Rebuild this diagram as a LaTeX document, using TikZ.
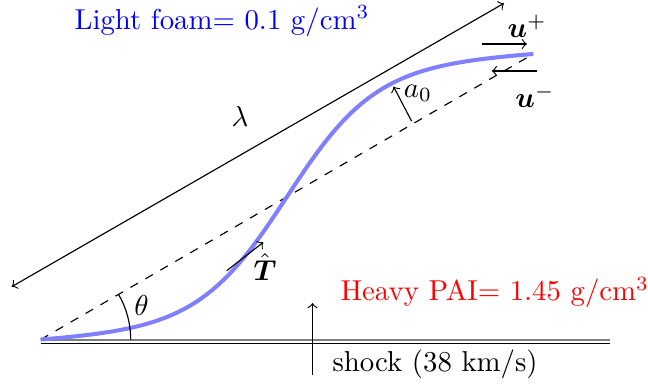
\documentclass[tikz,border=0pt]{standalone}
\usepackage{amsmath,amssymb}
\usetikzlibrary{calc}
\begin{document}
\begin{tikzpicture}[x=0.3472pt,y=-0.3472pt,
  curvestyle/.style={blue!50, line width=1.4pt},
  arr/.style={->, line width=0.4pt},
  lbl/.style={inner sep=0pt}]
\useasboundingbox (0,0) rectangle (648,383);
% key points
\coordinate (A) at (40.7,339.5);
\coordinate (B) at (533.3,54);
\coordinate (g1) at (40.7,339.5);
\coordinate (g2) at (610,339.5);
\coordinate (h1) at (40.7,343.3);
\coordinate (h2) at (610,343.3);
% ground (shock front)
\draw[gray, line width=0.7pt] (g1) -- (g2);
\draw[line width=0.45pt] (h1) -- (h2);
% dashed chord
\draw[dashed, line width=0.4pt] (A) -- (B);
% interface
\draw[curvestyle] plot[domain=40.7:533.3, samples=150, variable=\x]
  (\x, {196.75 - 285.5*(0.1*(\x-286.95)/492.6 + 0.4535*tanh((\x-286.95)/88.67))});
% lambda
\coordinate (L1) at (11.7,286.7);
\coordinate (L2) at (504,3.3);
\draw[<->, line width=0.4pt] (L1) -- (L2);
\node[lbl] (lam) at (240,116.7) {$\lambda$};
% theta
\draw[line width=0.4pt] (A) ++(90,0) arc[start angle=0, end angle=-30, radius=90];
\node[lbl] (th) at (141.5,305) {$\theta$};
% a0
\coordinate (a0s) at (411.5,121);
\coordinate (a0e) at (393.5,86.5);
\draw[arr] (a0s) -- (a0e);
\node[lbl] (a0) at (418,93) {$a_0$};
% tangent
\coordinate (t1) at (226.7,270.7);
\coordinate (t2) at (263.3,242.3);
\draw[arr] (t1) -- (t2);
\node[lbl] (T) at (265,267) {$\hat{\boldsymbol{T}}$};
% velocities
\coordinate (up1) at (481.7,44);
\coordinate (up2) at (527,44);
\draw[arr] (up1) -- (up2);
\node[lbl] (uplus) at (527,26) {$\boldsymbol{u}^{+}$};
\coordinate (um1) at (536.7,71);
\coordinate (um2) at (491.7,71);
\draw[arr] (um1) -- (um2);
\node[lbl] (uminus) at (535,96) {$\boldsymbol{u}^{-}$};
% shock arrow
\coordinate (s1) at (312.5,375);
\coordinate (s2) at (312.5,303);
\draw[arr] (s1) -- (s2);
\node[lbl, anchor=base west] (shock) at (332,371.7) {shock (38 km/s)};
% materials
\node[lbl, anchor=base west, text=blue] (light) at (74,29.3) {Light foam= 0.1 g/cm$^3$};
\node[lbl, anchor=base west, text=red] (heavy) at (340,300.7) {Heavy PAI= 1.45 g/cm$^3$};
\end{tikzpicture}
\end{document}
